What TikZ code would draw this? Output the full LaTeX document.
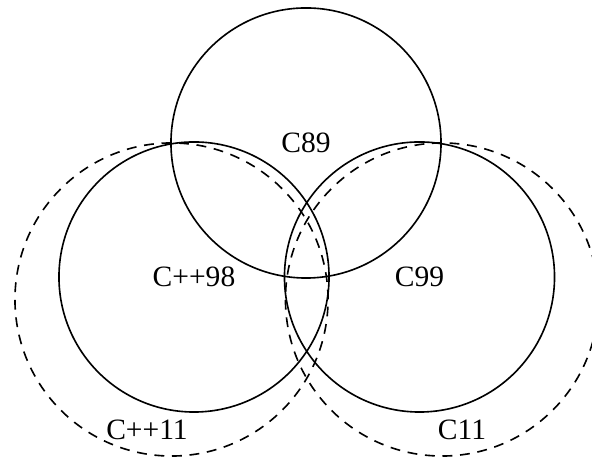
\documentclass[tikz,border=0pt]{standalone}
\usepackage{fontspec}
\setmainfont{Liberation Serif}
\usetikzlibrary{positioning}

\begin{document}
\begin{tikzpicture}[
    x=0.025cm, y=0.025cm,
    std/.style={draw, circle, line width=1.15pt, minimum size=6.75cm, inner sep=0pt, font=\fontsize{21}{24}\selectfont},
    newstd/.style={draw, circle, dashed, dash pattern=on 7pt off 5.5pt, line width=1.15pt, minimum size=7.825cm, inner sep=0pt},
    tag/.style={font=\fontsize{21}{24}\selectfont, inner sep=0pt},
]
    \useasboundingbox (0,0) rectangle (592,457);

    % the older standards
    \node[std] (c89) at (306,314) {C89};
    \node[std] (cpp98) at (194,180) {C++98};
    \node[std] (c99) at (419.5,180) {C99};

    % the newer ones
    \node[newstd] (cpp11) at (171.5,157.5) {};
    \node[newstd] (c11) at (442,157.5) {};

    \node[tag] (cpp11label) at (147,27) {C++11};
    \node[tag] (c11label) at (462,27) {C11};
\end{tikzpicture}
\end{document}
